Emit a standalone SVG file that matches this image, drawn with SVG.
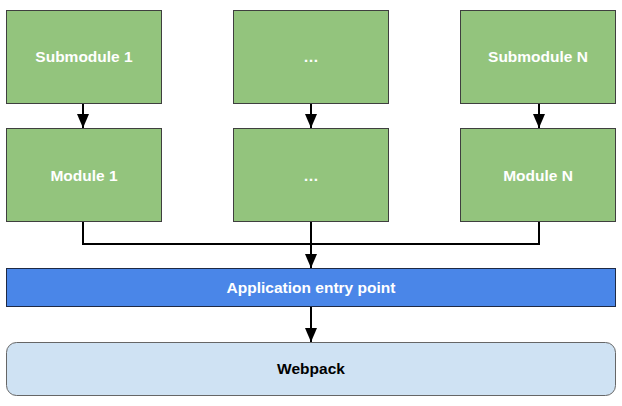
<svg xmlns="http://www.w3.org/2000/svg" width="622" height="406" viewBox="0 0 622 406">
<defs>
<marker id="ah" markerWidth="14" markerHeight="12" viewBox="0 0 14 12" refX="14" refY="6" orient="auto" markerUnits="userSpaceOnUse">
<path d="M0,0 L14,6 L0,12 Z" fill="#000"/>
</marker>
<style>
.g{fill:#93c47d;stroke:#3f3f3f;stroke-width:1}
.t{font-family:"Liberation Sans",Arial,sans-serif;font-weight:bold;font-size:15.5px;text-anchor:middle;fill:#fff}
.c{fill:none;stroke:#000;stroke-width:2}
</style>
</defs>
<rect width="622" height="406" fill="#fff"/>
<g id="sub1"><rect class="g" x="6.5" y="10.5" width="155" height="93"/><text class="t" x="84" y="62">Submodule 1</text></g>
<g id="subm"><rect class="g" x="233.5" y="10.5" width="155" height="93"/><text class="t" x="311" y="62">…</text></g>
<g id="subn"><rect class="g" x="460.5" y="10.5" width="155" height="93"/><text class="t" x="538" y="62">Submodule N</text></g>
<g id="mod1"><rect class="g" x="6.5" y="128.5" width="155" height="93"/><text class="t" x="84" y="181">Module 1</text></g>
<g id="modm"><rect class="g" x="233.5" y="128.5" width="155" height="93"/><text class="t" x="311" y="181">…</text></g>
<g id="modn"><rect class="g" x="460.5" y="128.5" width="155" height="93"/><text class="t" x="538" y="181">Module N</text></g>
<g id="entry"><rect x="6.5" y="268.5" width="609" height="38" fill="#4a86e8" stroke="#1f2a44" stroke-width="1"/><text class="t" x="311" y="293">Application entry point</text></g>
<g id="webpack"><rect x="6.5" y="342.5" width="609" height="53" rx="10" ry="10" fill="#cfe2f3" stroke="#666" stroke-width="1"/><text class="t" x="311" y="374" style="fill:#000">Webpack</text></g>
<g id="connectors">
<path class="c" d="M83,104 V128" marker-end="url(#ah)"/>
<path class="c" d="M311,104 V128" marker-end="url(#ah)"/>
<path class="c" d="M539,104 V128" marker-end="url(#ah)"/>
<path class="c" d="M83,222 V244 H539 V222"/>
<path class="c" d="M311,222 V268" marker-end="url(#ah)"/>
<path class="c" d="M311,307 V342" marker-end="url(#ah)"/>
</g>
</svg>
